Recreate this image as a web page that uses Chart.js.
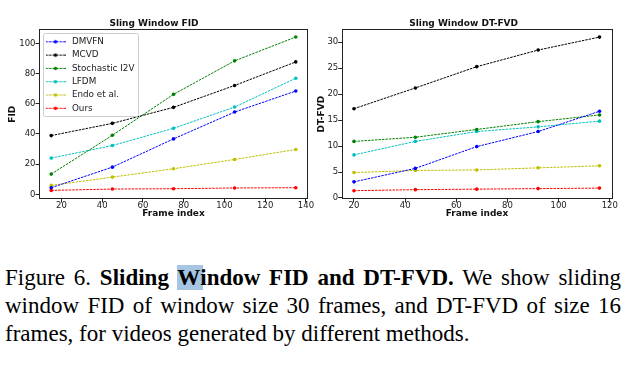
<!DOCTYPE html>
<html>
<head>
<meta charset="utf-8">
<script src="https://cdn.jsdelivr.net/npm/chart.js@4"></script>
<style>
  body { margin: 0; width: 630px; height: 366px; background: #fff; position: relative; overflow: hidden; }
  .plot { position: absolute; top: 0; width: 315px; height: 225px; }
  #left-wrap { left: 0; }
  #right-wrap { left: 315px; }
  .caption { position: absolute; left: 5px; top: 264px; width: 616px; font-family: "Liberation Serif", "Times New Roman", serif; font-size: 23px; line-height: 28px; color: #000; }
  .caption .just { text-align: justify; text-align-last: justify; }
  .hl { background: #a6c5e2; padding-right: 3px; margin-right: -3px; }
</style>
</head>
<body>
<div class="plot" id="left-wrap"><canvas id="fid-chart"></canvas></div>
<div class="plot" id="right-wrap"><canvas id="fvd-chart"></canvas></div>
<div class="caption">
  <div class="just">Figure 6. <b>Sliding <span class="hl">W</span>indow FID and DT-FVD.</b> We show sliding</div>
  <div class="just">window FID of window size 30 frames, and DT-FVD of size 16</div>
  <div>frames, for videos generated by different methods.</div>
</div>
<script>
  // Data

  const methods = ["DMVFN", "MCVD", "Stochastic I2V", "LFDM", "Endo et al.", "Ours"];
  const colors = ["#0000ff", "#000000", "#008000", "#00bfbf", "#bfbf00", "#ff0000"];

  // Left: sliding window FID
  const fidFrames = [15, 45, 75, 105, 135];
  const fidDmvfn = [4.4, 18.0, 36.7, 54.5, 68.4];
  const fidMcvd = [38.9, 47.0, 57.6, 72.1, 87.7];
  const fidStochastic = [13.4, 39.1, 66.2, 88.4, 104.2];
  const fidLfdm = [24.0, 32.3, 43.7, 57.8, 76.9];
  const fidEndo = [5.9, 11.4, 16.9, 23.1, 29.7];
  const fidOurs = [2.6, 3.5, 3.7, 4.2, 4.4];
  const fidTicksX = [20, 40, 60, 80, 100, 120, 140];
  const fidTicksY = [0, 20, 40, 60, 80, 100];

  // Right: sliding window DT-FVD
  const fvdFrames = [20, 44, 68, 92, 116];
  const fvdDmvfn = [3.1, 5.7, 9.9, 12.8, 16.7];
  const fvdMcvd = [17.2, 21.2, 25.3, 28.5, 31.0];
  const fvdStochastic = [10.9, 11.7, 13.2, 14.7, 16.0];
  const fvdLfdm = [8.3, 10.9, 12.8, 13.7, 14.8];
  const fvdEndo = [4.9, 5.3, 5.4, 5.8, 6.2];
  const fvdOurs = [1.4, 1.6, 1.7, 1.8, 1.9];
  const fvdTicksX = [20, 40, 60, 80, 100, 120];
  const fvdTicksY = [0, 5, 10, 15, 20, 25, 30];

  Chart.defaults.font.family = "'DejaVu Sans', sans-serif";
  Chart.defaults.color = "#222";
  Chart.defaults.animation = false;

  function makeDatasets(frames, seriesList) {
    return seriesList.map((values, i) => ({
      label: methods[i],
      data: values.map((v, j) => ({ x: frames[j], y: v })),
      borderColor: colors[i],
      backgroundColor: colors[i],
      borderWidth: 1,
      borderDash: [2.5, 1],
      pointRadius: 1.8,
      pointBorderWidth: 0,
      tension: 0,
    }));
  }

  // small dashed line + dot, like the matplotlib legend handle
  function legendIcon(color) {
    const c = document.createElement("canvas");
    c.width = 20;
    c.height = 5;
    const g = c.getContext("2d");
    g.strokeStyle = color;
    g.lineWidth = 1;
    g.setLineDash([2.5, 1]);
    g.beginPath();
    g.moveTo(0, 2.5);
    g.lineTo(20, 2.5);
    g.stroke();
    g.fillStyle = color;
    g.beginPath();
    g.arc(10, 2.5, 1.8, 0, Math.PI * 2);
    g.fill();
    return c;
  }

  const framePlugin = {
    id: "frame",
    beforeDraw(chart) {
      // chartArea legends get top reset to 0 on update, move it into the plot
      const legend = chart.legend;
      if (legend && legend.options.display) {
        const dy = chart.chartArea.top - legend.top;
        if (dy) {
          legend.top += dy;
          legend.bottom += dy;
          legend.legendHitBoxes.forEach((b) => { b.top += dy; });
        }
      }
    },
    afterDraw(chart) {
      const ctx = chart.ctx;
      const a = chart.chartArea;
      ctx.save();
      ctx.strokeStyle = "#222";
      ctx.lineWidth = 1;
      ctx.strokeRect(Math.round(a.left) + 0.5, Math.round(a.top) + 0.5,
        Math.round(a.right - a.left) - 1, Math.round(a.bottom - a.top) - 1);

      // legend frame
      const legend = chart.legend;
      if (legend && legend.options.display && legend.legendHitBoxes.length) {
        const boxes = legend.legendHitBoxes;
        const left = a.left + 4.3;
        const right = Math.max(...boxes.map((b) => b.left + b.width)) + 3.5;
        const top = Math.min(...boxes.map((b) => b.top)) - 4;
        const bottom = Math.max(...boxes.map((b) => b.top + b.height)) + 4;
        ctx.strokeStyle = "#cccccc";
        ctx.beginPath();
        ctx.roundRect(Math.round(left) + 0.5, Math.round(top) + 0.5,
          Math.round(right - left), Math.round(bottom - top), 2);
        ctx.stroke();
      }
      ctx.restore();
    },
  };

  function buildOptions(cfg) {
    return {
      responsive: true,
      maintainAspectRatio: false,
      layout: { padding: { left: 0, right: cfg.padRight, top: 0, bottom: 0 } },
      plugins: {
        title: {
          display: true,
          text: cfg.title,
          color: "#111",
          font: { size: 9, weight: "bold", lineHeight: 1.2 },
          padding: { top: 18, bottom: 0.5 },
        },
        legend: {
          display: cfg.legend,
          position: "chartArea",
          align: "start",
          title: { display: true, text: "", font: { size: 1 }, padding: { top: 1.2, bottom: 1.2 } },
          labels: {
            usePointStyle: true,
            pointStyleWidth: 24,
            padding: 4.5,
            color: "#222",
            font: { size: 8.8 },
            generateLabels: (chart) =>
              Chart.defaults.plugins.legend.labels.generateLabels(chart).map((item) => ({
                ...item,
                pointStyle: legendIcon(colors[item.datasetIndex]),
              })),
          },
        },
        tooltip: { enabled: false },
      },
      scales: {
        x: {
          type: "linear",
          min: cfg.xMin,
          max: cfg.xMax,
          afterBuildTicks: (axis) => { axis.ticks = cfg.ticksX.map((v) => ({ value: v })); },
          afterFit: (axis) => { axis.height = 26; },
          grid: { drawOnChartArea: false, drawTicks: true, tickLength: 3.5, color: "#222" },
          border: { display: false },
          ticks: { font: { size: 8.5 }, padding: -1.5, color: "#222", maxRotation: 0 },
          title: {
            display: true,
            text: "Frame index",
            color: "#111",
            font: { size: 9, weight: "bold", lineHeight: 1.2 },
            padding: { top: 0, bottom: 5.6 },
          },
        },
        y: {
          type: "linear",
          min: cfg.yMin,
          max: cfg.yMax,
          afterBuildTicks: (axis) => { axis.ticks = cfg.ticksY.map((v) => ({ value: v })); },
          afterFit: (axis) => { axis.width = cfg.yWidth; },
          grid: { drawOnChartArea: false, drawTicks: true, tickLength: 3.5, color: "#222" },
          border: { display: false },
          ticks: { font: { size: 8.5 }, padding: 0, color: "#222" },
          title: {
            display: true,
            text: cfg.yTitle,
            color: "#111",
            font: { size: 9, weight: "bold", lineHeight: 1.2 },
            padding: { top: cfg.yTitlePad, bottom: 0 },
          },
        },
      },
    };
  }

  new Chart(document.getElementById("fid-chart"), {
    type: "line",
    data: {
      datasets: makeDatasets(fidFrames, [fidDmvfn, fidMcvd, fidStochastic, fidLfdm, fidEndo, fidOurs]),
    },
    options: buildOptions({
      title: "Sling Window FID",
      yTitle: "FID",
      legend: true,
      padRight: 7,
      yWidth: 39,
      yTitlePad: 7.6,
      xMin: 9, xMax: 141, yMin: -3.1, yMax: 109.3,
      ticksX: fidTicksX, ticksY: fidTicksY,
    }),
    plugins: [framePlugin],
  });

  new Chart(document.getElementById("fvd-chart"), {
    type: "line",
    data: {
      datasets: makeDatasets(fvdFrames, [fvdDmvfn, fvdMcvd, fvdStochastic, fvdLfdm, fvdEndo, fvdOurs]),
    },
    options: buildOptions({
      title: "Sling Window DT-FVD",
      yTitle: "DT-FVD",
      legend: false,
      padRight: 17.7,
      yWidth: 26.7,
      yTitlePad: 1.3,
      xMin: 15.2, xMax: 121, yMin: -0.2, yMax: 32.5,
      ticksX: fvdTicksX, ticksY: fvdTicksY,
    }),
    plugins: [framePlugin],
  });
</script>
</body>
</html>
